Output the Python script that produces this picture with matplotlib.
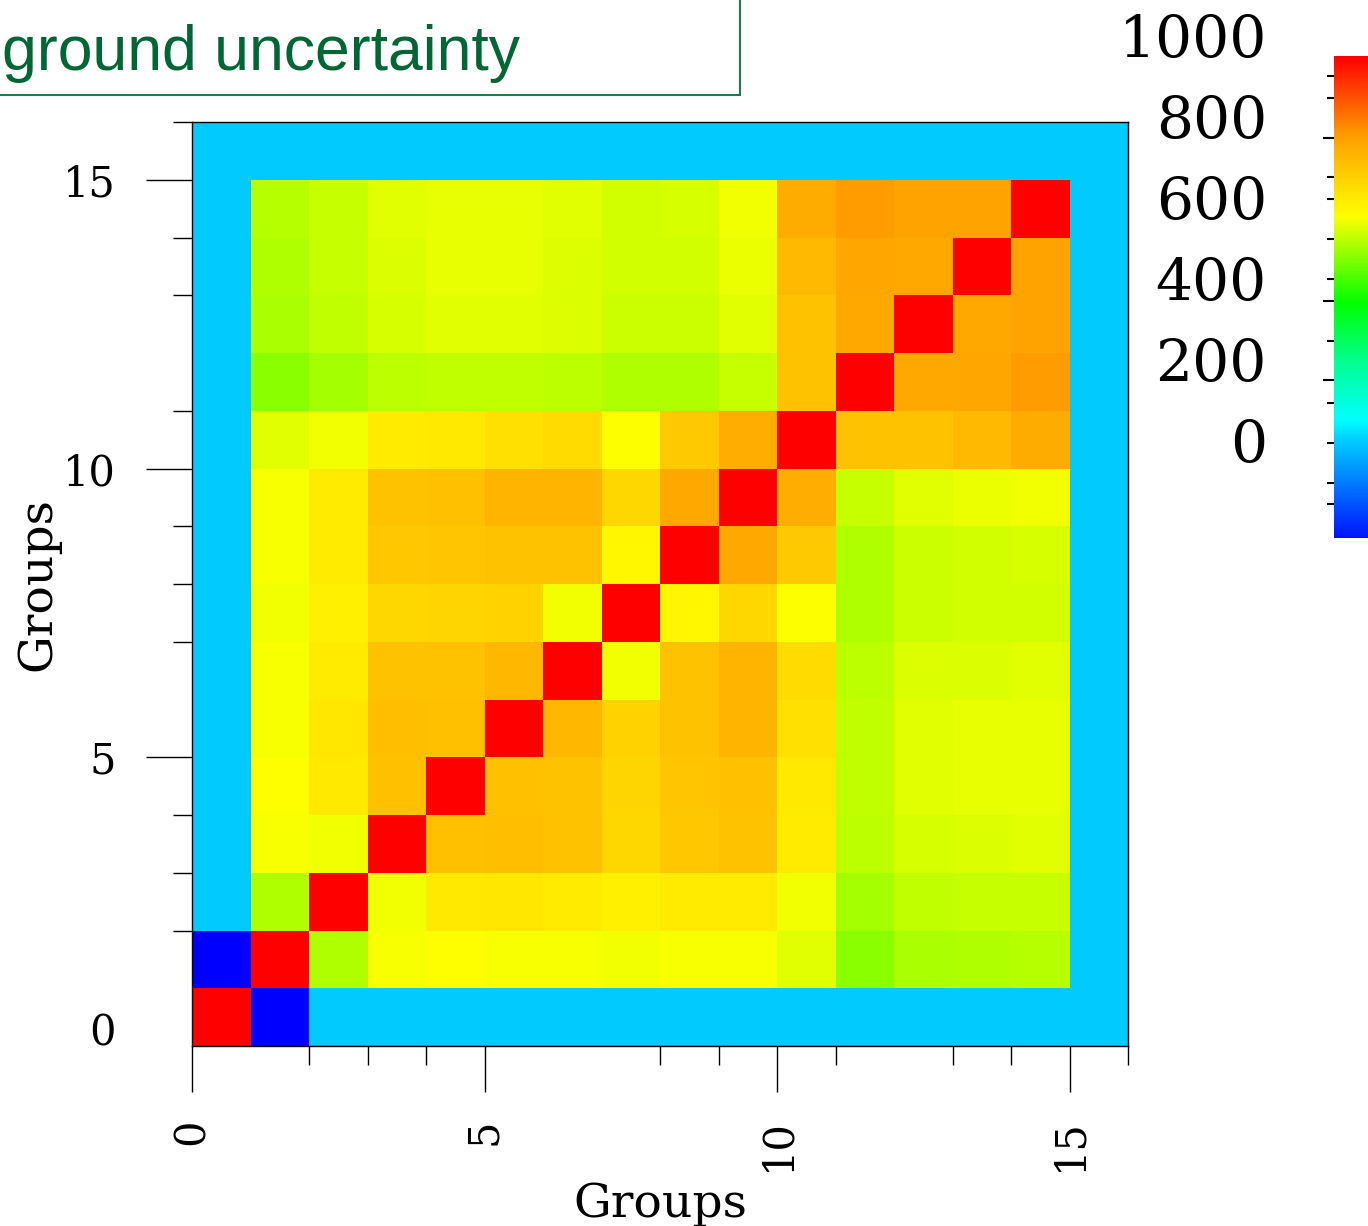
import numpy as np
import matplotlib.pyplot as plt
from matplotlib.colors import LinearSegmentedColormap, Normalize
from matplotlib.patches import Rectangle

# groups 0..15, covariance (lower triangle, row j -> columns 0..j-1)
groups = np.arange(16)
lower_rows = [
    [],
    [-1000],
    [0, 488],
    [0, 547, 542],
    [0, 555, 600, 683],
    [0, 550, 606, 688, 683],
    [0, 550, 596, 678, 678, 699],
    [0, 545, 586, 637, 642, 647, 545],
    [0, 550, 596, 668, 673, 678, 678, 573],
    [0, 550, 596, 678, 683, 704, 704, 637, 729],
    [0, 530, 545, 596, 601, 617, 625, 553, 663, 719],
    [0, 455, 478, 498, 500, 502, 498, 486, 488, 507, 678],
    [0, 484, 503, 521, 527, 528, 523, 509, 512, 530, 678, 729],
    [0, 486, 505, 525, 532, 534, 525, 514, 516, 538, 698, 735, 729],
    [0, 490, 508, 528, 534, 536, 528, 516, 520, 544, 724, 752, 745, 745],
    [0] * 15,
]
diagonal = [1000] * 15 + [0]

x_major = [0, 5, 10, 15]
x_minor = [2, 3, 4, 8, 9, 11, 13, 14, 16]
y_major = [0, 5, 10, 15]
y_minor = [2, 3, 4, 7, 8, 9, 11, 13, 14, 16]

cbar_labels = [0, 200, 400, 600, 800, 1000]
cbar_major = [151, 346, 748]
cbar_minor = [-156, -104, -5, 94, 247, 400, 499, 598, 652, 847, 901]

# colour scale (value -> colour)
vmin, vmax = -240, 950
scale_vals = [-240, 0, 50, 200, 340, 555, 750, 950]
scale_cols = ['#0014ff', '#00ccff', '#00ffff', '#00ff8c', '#00ff00',
              '#ffff00', '#ffa000', '#ff0000']

cmap = LinearSegmentedColormap.from_list(
    'cov', [((v - vmin) / (vmax - vmin), c) for v, c in zip(scale_vals, scale_cols)])
cmap.set_under('#0000ff')
cmap.set_over('#ff0000')
norm = Normalize(vmin, vmax)

# build symmetric matrix
cov = np.zeros((16, 16))
for j, row in enumerate(lower_rows):
    cov[j, :len(row)] = row
cov = cov + cov.T
np.fill_diagonal(cov, diagonal)

W, H = 1368, 1226
fig = plt.figure(figsize=(W / 100, H / 100), dpi=100)


def px(x0, y0, x1, y1):
    return [x0 / W, 1 - y1 / H, (x1 - x0) / W, (y1 - y0) / H]


serif = 'DejaVu Serif'
ax = fig.add_axes(px(192, 122, 1128, 1046))
edges = np.append(groups, 16)
mesh = ax.pcolormesh(edges, edges, cov, cmap=cmap, norm=norm, shading='flat')
ax.set_xlim(0, 16)
ax.set_ylim(0, 16)

ax.set_xticks(x_major)
ax.set_xticks(x_minor, minor=True)
ax.set_yticks(y_major)
ax.set_yticks(y_minor, minor=True)
ax.tick_params(which='major', direction='out', length=33, width=1, color='black')
ax.tick_params(which='minor', direction='out', length=14, width=1, color='black')
ax.tick_params(axis='x', which='major', pad=19, labelrotation=90, labelsize=30)
ax.tick_params(axis='y', which='major', pad=22, labelsize=30)
for lab in ax.get_xticklabels() + ax.get_yticklabels():
    lab.set_family(serif)
ax.yaxis.get_major_ticks()[0].tick1line.set_visible(False)
ax.get_yticklabels()[0].set_va('baseline')
for sp in ax.spines.values():
    sp.set_linewidth(1)

ax.set_xlabel('Groups', fontsize=34, family=serif)
ax.set_ylabel('Groups', fontsize=34, family=serif)
ax.xaxis.set_label_coords(0.5, -0.147)
ax.yaxis.set_label_coords(-0.141, 0.5)

# colour bar
cax = fig.add_axes(px(1334, 56, 1368, 538))
cb = fig.colorbar(mesh, cax=cax)
cb.outline.set_visible(False)
cax.yaxis.set_ticks_position('left')
cax.set_yticks(cbar_major)
cax.set_yticks(cbar_minor, minor=True)
cax.set_yticklabels([])
cax.tick_params(which='major', direction='out', length=8, width=1.5)
cax.tick_params(which='minor', direction='out', length=5, width=1.5)

# colour bar labels
lab_ax = fig.add_axes(px(1278, 35, 1279, 440))
lab_ax.set_ylim(0, 1000)
lab_ax.set_yticks(cbar_labels)
lab_ax.set_xticks([])
lab_ax.tick_params(axis='y', length=0, pad=8, labelsize=42)
for lab in lab_ax.get_yticklabels():
    lab.set_family(serif)
for sp in lab_ax.spines.values():
    sp.set_visible(False)
lab_ax.patch.set_visible(False)

# title box, open on the left
fig.add_artist(Rectangle((-5 / W, 1 - 95 / H), 745 / W, 100 / H,
                         transform=fig.transFigure, fill=False,
                         edgecolor='#1f7a4d', linewidth=1.5))
fig.text(2 / W, 1 - 70 / H, 'ground uncertainty', fontsize=45,
         color='#006633', family='Liberation Sans', ha='left', va='baseline')

fig.savefig('out.png', dpi=100)
